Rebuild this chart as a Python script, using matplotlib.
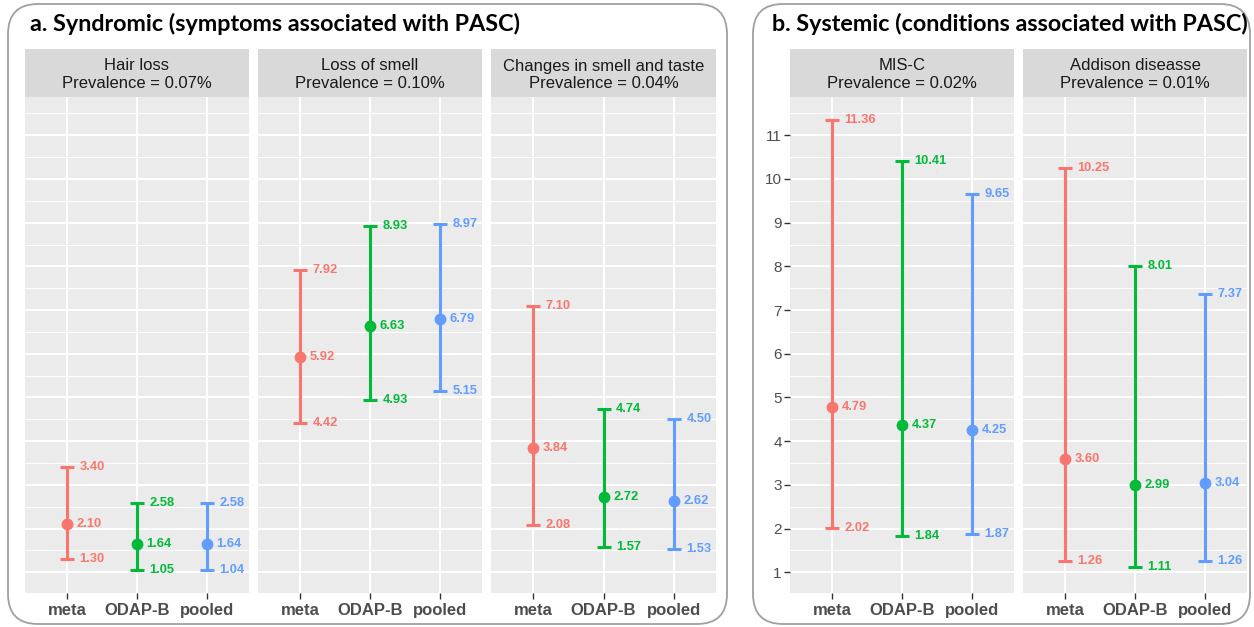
import matplotlib
matplotlib.use("Agg")
import matplotlib.pyplot as plt
from matplotlib.patches import FancyBboxPatch, Rectangle
import numpy as np

plt.rcParams["font.family"] = ["Liberation Sans", "DejaVu Sans"]

# data: estimate (lower, upper) per source
sources = ["meta", "ODAP-B", "pooled"]
colors = ["#F8766D", "#00BA38", "#619CFF"]

syndromic_names = ["Hair loss", "Loss of smell", "Changes in smell and taste"]
syndromic_prev = ["0.07%", "0.10%", "0.04%"]
syndromic_est = [[2.10, 1.64, 1.64], [5.92, 6.63, 6.79], [3.84, 2.72, 2.62]]
syndromic_lo = [[1.30, 1.05, 1.04], [4.42, 4.93, 5.15], [2.08, 1.57, 1.53]]
syndromic_hi = [[3.40, 2.58, 2.58], [7.92, 8.93, 8.97], [7.10, 4.74, 4.50]]

systemic_names = ["MIS-C", "Addison diseasse"]
systemic_prev = ["0.02%", "0.01%"]
systemic_est = [[4.79, 4.37, 4.25], [3.60, 2.99, 3.04]]
systemic_lo = [[2.02, 1.84, 1.87], [1.26, 1.11, 1.26]]
systemic_hi = [[11.36, 10.41, 9.65], [10.25, 8.01, 7.37]]

W, H = 1254, 627
fig = plt.figure(figsize=(W / 100, H / 100), dpi=100)
fig.patch.set_facecolor("white")

# shared y range (ggplot-like 5% expansion)
all_lo = min(min(r) for r in syndromic_lo + systemic_lo)
all_hi = max(max(r) for r in syndromic_hi + systemic_hi)
pad = (all_hi - all_lo) * 0.05
ylim = (all_lo - pad, all_hi + pad)

TOP, BOT = 97, 593
STRIP_H = 48


def px_axes(x0, x1):
    return fig.add_axes([x0 / W, (H - BOT) / H, (x1 - x0) / W, (BOT - TOP) / H])


def facet(x0, x1, name, prev, est, lo, hi, ylabels):
    ax = px_axes(x0, x1)
    ax.set_facecolor("#EBEBEB")
    ax.set_xlim(0.4, 3.6)
    ax.set_ylim(*ylim)
    ax.set_yticks(range(1, 12))
    ax.set_yticks(np.arange(1.5, 12, 1), minor=True)
    ax.grid(True, which="major", color="white", lw=1.4)
    ax.grid(True, which="minor", axis="y", color="white", lw=0.7)
    ax.set_axisbelow(True)
    for s in ax.spines.values():
        s.set_visible(False)
    ax.set_xticks([1, 2, 3])
    ax.set_xticklabels(sources, fontsize=12, fontweight="bold", color="#4D4D4D")
    ax.tick_params(axis="x", length=4, width=1, color="#333333", pad=3)
    ax.tick_params(axis="y", which="minor", length=0)
    if ylabels:
        ax.tick_params(axis="y", length=4, width=1, color="#333333", labelsize=11,
                       labelcolor="#4D4D4D", pad=2)
    else:
        ax.tick_params(axis="y", length=0, labelleft=False)

    for i in range(3):
        x = i + 1
        c = colors[i]
        ax.errorbar(x, est[i], yerr=[[est[i] - lo[i]], [hi[i] - est[i]]], fmt="o",
                    color=c, ms=7.5, elinewidth=2.2, capsize=5, capthick=2.2, zorder=3)
        for v, off in ((hi[i], 9), (lo[i], 9), (est[i], 7)):
            ax.annotate(f"{v:.2f}", (x, v), xytext=(off, 0), textcoords="offset points",
                        ha="left", va="center", fontsize=9.3, fontweight="bold", color=c)

    # strip
    fig.patches.append(Rectangle((x0 / W, (H - TOP) / H), (x1 - x0) / W, STRIP_H / H,
                                 transform=fig.transFigure, facecolor="#D9D9D9",
                                 edgecolor="none"))
    fig.text((x0 + x1) / 2 / W, (H - TOP + STRIP_H / 2 - 2) / H,
             f"{name}\nPrevalence = {prev}", ha="center", va="center",
             fontsize=12, color="#1A1A1A", linespacing=1.25)
    return ax


syn_x = [(25, 249), (258, 482), (491, 716)]
for k in range(3):
    facet(*syn_x[k], syndromic_names[k], syndromic_prev[k], syndromic_est[k],
          syndromic_lo[k], syndromic_hi[k], ylabels=False)

sys_x = [(790, 1014), (1023, 1247)]
for k in range(2):
    facet(*sys_x[k], systemic_names[k], systemic_prev[k], systemic_est[k],
          systemic_lo[k], systemic_hi[k], ylabels=(k == 0))

# rounded frames around the two groups
for bx0, bx1 in ((8, 727), (753, 1250)):
    fig.patches.append(FancyBboxPatch((bx0 / 100, 0.03), (bx1 - bx0) / 100, 6.20,
                                      boxstyle="round,pad=0,rounding_size=0.3",
                                      transform=fig.dpi_scale_trans, facecolor="none",
                                      edgecolor="#A0A0A0", lw=1.3, zorder=-1))

fig.text(30 / W, (H - 24) / H, "a. Syndromic (symptoms associated with PASC)",
         ha="left", va="center", fontsize=16.8, fontweight="bold", family="Lato")
fig.text(772 / W, (H - 24) / H, "b. Systemic (conditions associated with PASC)",
         ha="left", va="center", fontsize=16.8, fontweight="bold", family="Lato")

fig.savefig("out.png", dpi=100)
